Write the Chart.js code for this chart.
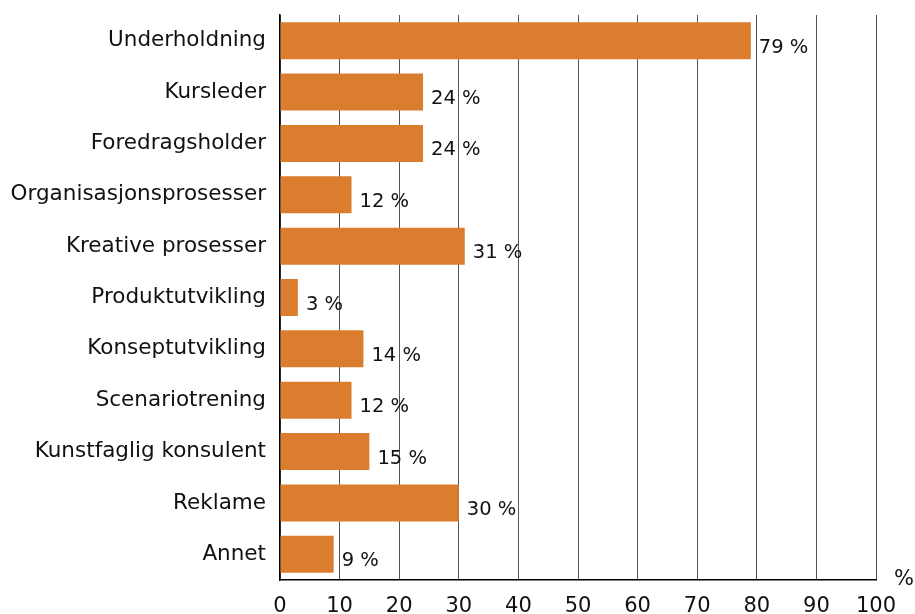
<!DOCTYPE html>
<html>
<head>
<meta charset="utf-8">
<script src="https://cdn.jsdelivr.net/npm/chart.js@4/dist/chart.umd.min.js"></script>
<style>
  html, body { margin: 0; padding: 0; background: #fff; }
  #wrap { width: 915px; height: 614px; }
</style>
</head>
<body>
<div id="wrap"><canvas id="myChart"></canvas></div>
<script>
'use strict';

//data
const categories = [
  'Underholdning',
  'Kursleder',
  'Foredragsholder',
  'Organisasjonsprosesser',
  'Kreative prosesser',
  'Produktutvikling',
  'Konseptutvikling',
  'Scenariotrening',
  'Kunstfaglig konsulent',
  'Reklame',
  'Annet'
];
const shares = [79, 24, 24, 12, 31, 3, 14, 12, 15, 30, 9];
const xTicks = [0, 10, 20, 30, 40, 50, 60, 70, 80, 90, 100];

const family = '"DejaVu Sans", Verdana, sans-serif';
const textColor = '#111';

//value labels right of each bar, plus the lone % unit
const valueLabels = {
  id: 'valueLabels',
  afterDatasetsDraw(chart) {
    const ctx = chart.ctx;
    const meta = chart.getDatasetMeta(0);
    ctx.save();
    ctx.font = `19.5px ${family}`;
    ctx.fillStyle = textColor;
    ctx.textAlign = 'left';
    ctx.textBaseline = 'middle';
    meta.data.forEach((bar, i) => {
      ctx.fillText(`${shares[i]} %`, bar.x + 8, bar.y + 7);
    });
    ctx.font = `21px ${family}`;
    ctx.textAlign = 'center';
    ctx.fillText('%', chart.chartArea.right + 28, chart.chartArea.bottom);
    ctx.restore();
  }
};

new Chart(document.getElementById('myChart'), {
  type: 'bar',
  data: {
    labels: categories,
    datasets: [{
      data: shares,
      backgroundColor: '#db7d2e',
      borderWidth: 0,
      barPercentage: 0.72,
      categoryPercentage: 1
    }]
  },
  options: {
    indexAxis: 'y',
    responsive: true,
    maintainAspectRatio: false,
    animation: false,
    layout: { padding: { top: 15, right: 39, left: 0, bottom: 0 } },
    plugins: { legend: { display: false }, tooltip: { enabled: false } },
    scales: {
      x: {
        min: 0,
        max: 100,
        afterBuildTicks: (scale) => { scale.ticks = xTicks.map(v => ({ value: v })); },
        afterFit: (scale) => {
          scale.height = 34;
          scale.paddingLeft = 0;
          scale.paddingRight = 0;
        },
        grid: { color: '#555', lineWidth: 1, drawTicks: false },
        border: { color: '#000', width: 1.5 },
        ticks: { font: { family: family, size: 21 }, color: textColor, padding: 14, maxRotation: 0 }
      },
      y: {
        afterFit: (scale) => {
          scale.width = 280;
          scale.paddingTop = 0;
          scale.paddingBottom = 0;
        },
        grid: { display: false, drawTicks: false },
        border: { color: '#000', width: 1.5 },
        ticks: { font: { family: family, size: 21.5 }, color: textColor, padding: 14 }
      }
    }
  },
  plugins: [valueLabels]
});
</script>
</body>
</html>
